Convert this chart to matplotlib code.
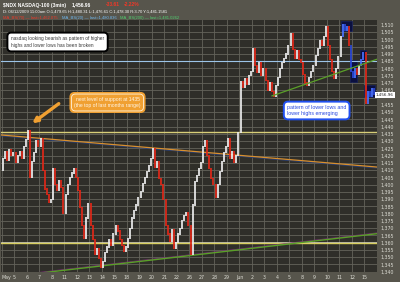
import numpy as np
import matplotlib.pyplot as plt
from matplotlib.patches import Rectangle

# trading days, May 4 .. Jun 15 2009 (index 0 = May 4)
day_labels = ['May', '5', '6', '7', '8', '11', '12', '13', '14', '15', '18', '19', '20', '21', '22',
              '26', '27', '28', '29', 'Jun', '2', '3', '4', '5', '8', '9', '10', '11', '12', '15']

# bar closes, six per day
first_open = 1410
closes = [
    [1418, 1423, 1417, 1424, 1420, 1422],  # May 4
    [1415, 1420, 1423, 1418, 1426, 1431],  # May 5
    [1437, 1405, 1416, 1422, 1430, 1426],  # May 6
    [1432, 1410, 1397, 1393, 1388, 1390],  # May 7
    [1411, 1400, 1396, 1403, 1398, 1380],  # May 8
    [1393, 1400, 1405, 1408, 1411, 1405],  # May 11
    [1396, 1384, 1372, 1363, 1377, 1387],  # May 12
    [1372, 1362, 1352, 1356, 1349, 1343],  # May 13
    [1347, 1353, 1357, 1362, 1358, 1366],  # May 14
    [1372, 1368, 1362, 1358, 1354, 1357],  # May 15
    [1363, 1370, 1377, 1382, 1386, 1391],  # May 18
    [1395, 1401, 1405, 1409, 1413, 1418],  # May 19
    [1425, 1412, 1416, 1404, 1400, 1390],  # May 20
    [1372, 1366, 1361, 1369, 1356, 1360],  # May 21
    [1366, 1370, 1375, 1379, 1381, 1372],  # May 22
    [1352, 1386, 1402, 1406, 1411, 1415],  # May 26
    [1426, 1430, 1420, 1411, 1404, 1400],  # May 27
    [1391, 1400, 1409, 1416, 1422, 1426],  # May 28
    [1432, 1418, 1423, 1415, 1420, 1436],  # May 29
    [1471, 1467, 1473, 1469, 1475, 1478],  # Jun 1
    [1494, 1482, 1477, 1484, 1475, 1480],  # Jun 2
    [1472, 1465, 1470, 1464, 1461, 1468],  # Jun 3
    [1474, 1480, 1484, 1487, 1490, 1496],  # Jun 4
    [1504, 1493, 1487, 1492, 1486, 1484],  # Jun 5
    [1476, 1470, 1468, 1474, 1478, 1482],  # Jun 8
    [1489, 1494, 1499, 1496, 1502, 1509],  # Jun 9
    [1496, 1486, 1478, 1473, 1480, 1488],  # Jun 10
    [1502, 1510, 1506, 1509, 1496, 1478],  # Jun 11
    [1474, 1480, 1476, 1482, 1486, 1491],  # Jun 12
    [1456, 1464, 1461, 1466, 1462, 1460],  # Jun 15
]

# drawn levels / trendlines (x in day index, price)
support_hi = 1436
support_lo = 1359.5
blue_level = 1485.4
orange_line = ([-0.08, 30], [1434.2, 1412.1])
green_line = ([-0.08, 30], [1335.9, 1366.2])
green_short = ([21.6, 30], [1461.1, 1486.4])

# highlighted regions (x0, x1, p0, p1)
boxes = [(27.12, 28.0, 1505.9, 1512.8),
         (27.84, 28.4, 1470.7, 1485.9),
         (28.64, 29.12, 1484.5, 1492.8),
         (28.96, 29.84, 1460.4, 1468.6)]

W, H = 400, 282
fig = plt.figure(figsize=(4, 2.82), dpi=100)
fig.patch.set_facecolor('#57554c')
ax = fig.add_axes([1 / W, 10 / H, 376 / W, 252 / H])
ax.set_facecolor('#2f2e29')
ax.set_xlim(-0.08, 30)
ax.set_ylim(1339.8, 1513.4)

yt = list(range(1340, 1511, 5))
ax.set_xticks(range(len(day_labels)))
ax.set_xticklabels(day_labels)
ax.set_yticks(yt)
ax.set_yticklabels(['' if v == 1460 else '{:,}'.format(v) for v in yt])
ax.yaxis.tick_right()
ax.tick_params(axis='both', length=0, labelsize=3.4, labelcolor='#dcdcd4')
ax.tick_params(axis='y', pad=2.5)
ax.tick_params(axis='x', pad=2.5)
ax.get_xticklabels()[0].set_ha('left')
ax.grid(True, color='#64635b', lw=0.6)
ax.set_axisbelow(True)
for s in ax.spines.values():
    s.set_visible(False)

for (x0, x1, p0, p1) in boxes:
    ax.add_patch(Rectangle((x0, p0), x1 - x0, p1 - p0, fc='#0b1040', ec='#16205a', lw=0.5, zorder=2))

# level lines
ax.axhline(blue_level, color='#9cc4e8', lw=0.8, zorder=3)
ax.axhline(support_hi, color='#d8cf78', lw=1.0, zorder=3)
ax.axhline(support_lo + 1.1, color='#e8e8e0', lw=0.5, zorder=3)
ax.axhline(support_lo, color='#d8cf60', lw=1.0, zorder=3)
ax.plot(orange_line[0], np.array(orange_line[1]) - 0.7, color='#28407a', lw=0.6, zorder=3)
ax.plot(*orange_line, color='#d89030', lw=0.9, zorder=3)
ax.plot(green_line[0], np.array(green_line[1]) + 0.6, color='#7a2a7a', lw=0.5, zorder=3)
ax.plot(*green_line, color='#5aa028', lw=1.0, zorder=3)

# candles
prev = first_open
xs, lo, hi, cols = [], [], [], []
for d, day in enumerate(closes):
    n = len(day)
    for k, c in enumerate(day):
        x = d + (k + 0.5) / n
        up = c >= prev
        col = '#ececec' if up else '#e02818'
        for (x0, x1, p0, p1) in boxes:
            if x0 <= x <= x1 and p0 <= c <= p1:
                col = '#4a72ff' if up else '#2a48d8'
        xs.append(x)
        lo.append(min(prev, c) - 0.4)
        hi.append(max(prev, c) + 0.4)
        cols.append(col)
        prev = c
ax.vlines(xs, lo, hi, colors=cols, lw=1.25, zorder=4)

ax.plot(*green_short, color='#5aa028', lw=0.9, zorder=5)


def fx(px):
    return px / W


def fy(py):
    return 1 - py / H


hfont = 'Liberation Sans'
# header
fig.text(fx(3), fy(5), '$NDX NASDAQ-100 (3min)', fontsize=3.6, weight='bold', family=hfont, color='white', va='center')
fig.text(fx(72), fy(5), '1,456.96', fontsize=3.6, weight='bold', family=hfont, color='white', va='center')
fig.text(fx(106), fy(5), '-33.61', fontsize=3.6, weight='bold', family=hfont, color='#f03828', va='center')
fig.text(fx(124), fy(5), '-2.22%', fontsize=3.6, weight='bold', family=hfont, color='#f03828', va='center')
fig.text(fx(3), fy(12), 'D: 06/12/2009 11:00am O:1,479.65 H:1,480.31 L:1,476.61 C:1,478.30 R:3.70 Y:1,481.1581',
         fontsize=3.0, family=hfont, color='white', va='center')
fig.text(fx(3), fy(18.5), 'MA_BS(70) \u2014 last=1,462.075', fontsize=3.0, family=hfont, color='#f03828', va='center')
fig.text(fx(62), fy(18.5), 'MA_BS(20) \u2014 last=1,480.836', fontsize=3.0, family=hfont, color='#70b8f0', va='center')
fig.text(fx(120), fy(18.5), 'MA_BS(200) \u2014 last=1,481.0262', fontsize=3.0, family=hfont, color='#50d070', va='center')

# annotations
fig.text(fx(11), fy(42), 'nasdaq looking bearish as pattern of higher\nhighs and lower lows has been broken',
         fontsize=3.45, family='Liberation Sans', color='#383838', va='center', linespacing=1.4,
         bbox=dict(boxstyle='round,pad=0.75,rounding_size=0.8', fc='white', ec='black', lw=1.4))

orange_txt = 'next level of support at 1435\n(the top of last months range)'
fig.text(fx(107.5), fy(102.5), orange_txt, fontsize=3.6, family='Liberation Sans', color='none',
         ha='center', va='center', linespacing=1.35,
         bbox=dict(boxstyle='round,pad=0.85,rounding_size=0.9', fc='#f0a032', ec='#f0a032', lw=0.8))
fig.text(fx(107.5), fy(102.5), orange_txt, fontsize=3.6, family='Liberation Sans', color='#fff6e8',
         ha='center', va='center', linespacing=1.35,
         bbox=dict(boxstyle='round,pad=0.55,rounding_size=0.8', fc='#f0a032', ec='#fff2dc', lw=0.6))
fig.add_artist(plt.Annotation('', xy=(fx(30), fy(125)), xycoords='figure fraction',
                              xytext=(fx(61), fy(102)), textcoords='figure fraction',
                              arrowprops=dict(arrowstyle='-|>', color='#f0a032', lw=2.4, mutation_scale=7)))

fig.text(fx(287), fy(110.5), 'pattern of lower lows and\nlower highs emerging', fontsize=3.8,
         family='Liberation Sans', color='#2848e0', va='center', linespacing=1.35,
         bbox=dict(boxstyle='round,pad=0.6,rounding_size=0.8', fc='white', ec='#2050f0', lw=1.4))

fig.text(fx(376), fy(95), '1,456.96', fontsize=3.0, color='#202020', va='center',
         bbox=dict(boxstyle='square,pad=0.25', fc='white', ec='none'))

fig.savefig('out.png', dpi=100, facecolor=fig.get_facecolor())
